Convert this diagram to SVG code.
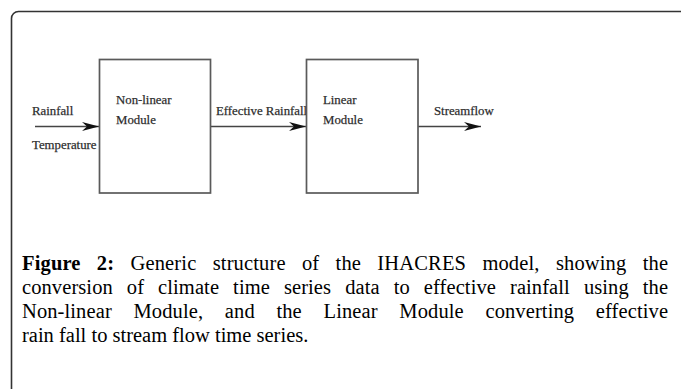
<svg xmlns="http://www.w3.org/2000/svg" width="681" height="389" viewBox="0 0 681 389">
<style>
.lbl{font-family:"Liberation Serif","Times New Roman",serif;font-size:12.8px;fill:#222;stroke:#444;stroke-width:0.25}
.box{fill:#fff;stroke:#5a5a5a;stroke-width:1.7}
.con{stroke:#444;stroke-width:1.7;fill:none}
.cap{font-family:"Liberation Serif","Times New Roman",serif;font-size:20.5px;fill:#000}
</style>
<defs>
<marker id="ah" viewBox="0 0 17 10" refX="17" refY="5" markerWidth="17" markerHeight="10" markerUnits="userSpaceOnUse" orient="auto">
<path d="M0,0.5 L17,5 L0,9.5 L5,5 Z" fill="#111"/>
</marker>
</defs>
<rect x="11.5" y="11.5" width="720" height="420" rx="7" ry="7" fill="none" stroke="#333" stroke-width="1.6"/>
<g id="connectors">
<line class="con" x1="35" y1="126.5" x2="99" y2="126.5" marker-end="url(#ah)"/>
<line class="con" x1="211" y1="126.5" x2="306" y2="126.5" marker-end="url(#ah)"/>
<line class="con" x1="418" y1="126.5" x2="481" y2="126.5" marker-end="url(#ah)"/>
</g>
<g id="input-labels">
<text class="lbl" x="32" y="115">Rainfall</text>
<text class="lbl" x="32" y="149">Temperature</text>
</g>
<g id="nonlinear">
<rect class="box" x="99.5" y="59.5" width="111" height="133.5"/>
<text class="lbl" x="116" y="104">Non-linear</text>
<text class="lbl" x="116" y="124">Module</text>
</g>
<g id="effective-label">
<text class="lbl" x="216" y="115">Effective Rainfall</text>
</g>
<g id="linear">
<rect class="box" x="306.5" y="59.5" width="111.5" height="133.5"/>
<text class="lbl" x="323" y="104">Linear</text>
<text class="lbl" x="323" y="124">Module</text>
</g>
<g id="output-label">
<text class="lbl" x="434" y="115">Streamflow</text>
</g>
<g id="caption">
<text class="cap" x="22" y="270" word-spacing="11" textLength="646" lengthAdjust="spacing"><tspan font-weight="bold">Figure 2:</tspan> Generic structure of the IHACRES model, showing the</text>
<text class="cap" x="22" y="294" word-spacing="8.8" textLength="646" lengthAdjust="spacing">conversion of climate time series data to effective rainfall using the</text>
<text class="cap" x="22" y="318" word-spacing="16.5" textLength="646" lengthAdjust="spacing">Non-linear Module, and the Linear Module converting effective</text>
<text class="cap" x="22" y="342">rain fall to stream flow time series.</text>
</g>
</svg>
